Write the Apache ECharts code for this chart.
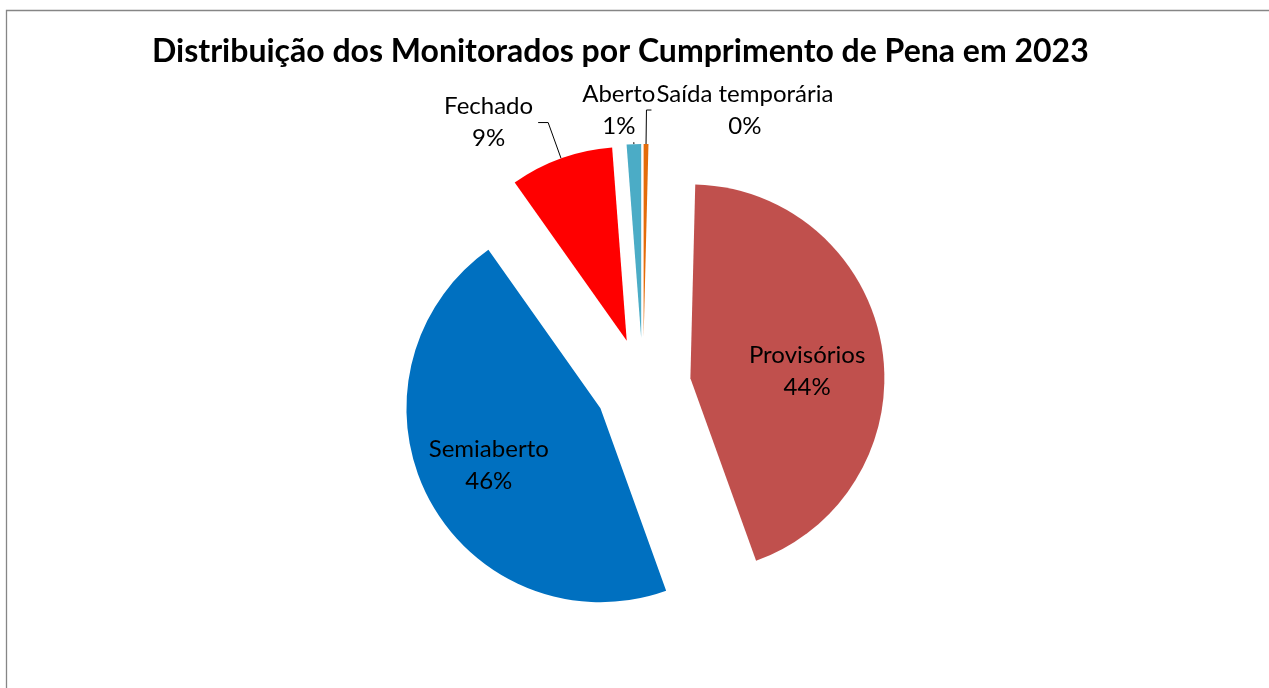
<!DOCTYPE html>
<html>
<head>
<meta charset="utf-8">
<script src="https://cdn.jsdelivr.net/npm/echarts@6/dist/echarts.min.js"></script>
<style>
html, body { margin: 0; padding: 0; background: #fff; }
#main { width: 1269px; height: 688px; }
</style>
</head>
<body>
<div id="main"></div>
<script>
var categories = ['Saída temporária', 'Provisórios', 'Semiaberto', 'Fechado', 'Aberto'];
var shares = [0.4, 44.1, 45.7, 8.6, 1.2];
var colors = ['#E46C0A', '#C0504D', '#0070C0', '#FF0000', '#4BACC6'];

var chartDom = document.getElementById('main');
var myChart = echarts.init(chartDom, null, { renderer: 'canvas' });
var option;
var font = 'Lato';

// how each slice label sits (Excel "best fit" look)
var labelSetup = [
  { position: 'outside', lineLen: 34, lineLen2: 5, gap: 5 },
  { position: 'inside' },
  { position: 'inside' },
  { position: 'outside', lineLen: 38, lineLen2: 10, gap: 5 },
  { position: 'outside', lineLen: 2, lineLen2: 0, gap: 15 }
];
var insideShift = { 1: [18, 9], 2: [-23, 11] };

var data = categories.map(function (name, i) {
  var s = labelSetup[i];
  var item = {
    name: name,
    value: shares[i],
    selected: true,
    itemStyle: { color: colors[i] },
    label: { position: s.position }
  };
  if (s.position === 'outside') {
    item.label.distanceToLabelLine = s.gap;
    item.labelLine = { show: true, length: s.lineLen, length2: s.lineLen2 };
  } else {
    item.labelLine = { show: false };
  }
  return item;
});

option = {
  animation: false,
  backgroundColor: '#ffffff',
  title: {
    text: 'Distribuição dos Monitorados por Cumprimento de Pena em 2023',
    left: 152,
    top: 34,
    padding: 0,
    textStyle: {
      fontFamily: font,
      fontWeight: 'bold',
      fontSize: 32,
      lineHeight: 36,
      color: '#000'
    }
  },
  graphic: [{
    type: 'rect',
    silent: true,
    shape: { x: 6.5, y: 10.5, width: 1400, height: 800 },
    style: { fill: 'none', stroke: '#868686', lineWidth: 1.3 }
  }],
  series: [{
    type: 'pie',
    center: [643, 386],
    radius: 194,
    startAngle: 90,
    clockwise: true,
    selectedMode: 'multiple',
    selectedOffset: 48,
    avoidLabelOverlap: false,
    percentPrecision: 0,
    itemStyle: { borderWidth: 0 },
    emphasis: { disabled: true },
    select: { itemStyle: { borderWidth: 0 } },
    label: {
      color: '#000',
      fontFamily: font,
      fontSize: 24,
      formatter: '{t|{b}}\n{t|{d}%}',
      rich: {
        t: { align: 'center', fontFamily: font, fontSize: 24, lineHeight: 32, color: '#000' }
      }
    },
    labelLine: { smooth: false, lineStyle: { color: '#000', width: 1 } },
    labelLayout: function (params) {
      var d = insideShift[params.dataIndex];
      if (d) {
        return { dx: d[0], dy: d[1] };
      }
      if (params.dataIndex === 4) {
        return { align: 'center', verticalAlign: 'bottom' };
      }
      return {};
    },
    data: data
  }]
};

myChart.setOption(option);
</script>
</body>
</html>
